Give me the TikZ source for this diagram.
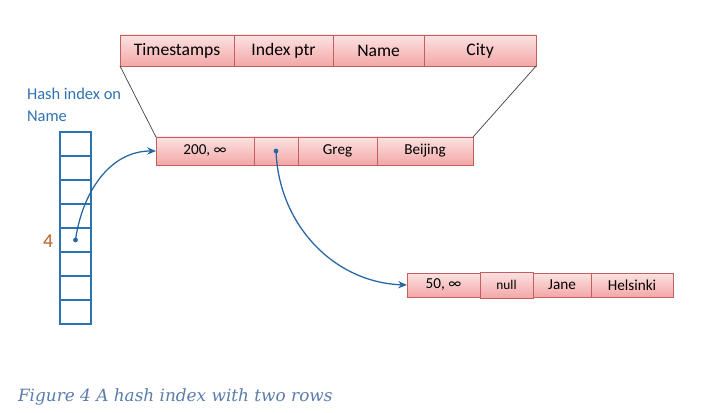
\documentclass[tikz,border=0pt]{standalone}
\usepackage{fontspec}
\setmainfont{Carlito}
\newfontfamily\captionfont{DejaVu Serif}
\usetikzlibrary{arrows.meta, positioning}

\definecolor{celltop}{HTML}{FCE2E2}
\definecolor{cellbot}{HTML}{F3A7A7}
\definecolor{cellborder}{HTML}{C2605E}
\definecolor{hashblue}{HTML}{2E72B0}
\definecolor{linkblue}{HTML}{2566A3}
\definecolor{numorange}{HTML}{B8632A}
\definecolor{captionblue}{HTML}{5A7CAB}

\begin{document}
\begin{tikzpicture}[
    x=0.025cm, y=-0.025cm,
    every node/.style={inner sep=0pt, outer sep=0pt},
    topcell/.style={rectangle, draw=cellborder, top color=celltop, bottom color=cellbot, minimum height=0.775cm, font=\fontsize{12.5}{15}\selectfont},
    rowcell/.style={rectangle, draw=cellborder, top color=celltop, bottom color=cellbot, minimum height=0.7cm, font=\fontsize{10.8}{13}\selectfont},
    lowcell/.style={rowcell, minimum height=0.6cm},
    slot/.style={rectangle, draw=hashblue, line width=1.3pt, minimum width=0.775cm, minimum height=0.6cm},
    dot/.style={circle, fill=linkblue, minimum size=3.4pt},
    link/.style={-{Stealth[length=2.2mm, width=1.8mm]}, linkblue, line width=0.9pt},
    frame/.style={draw=black!75, line width=0.5pt}
]
\useasboundingbox (0,0) rectangle (710,413);

% ============ SCHEMA (TOP) ============
\node[topcell, minimum width=2.85cm, anchor=north west] (hd_ts) at (120,35) {Timestamps};
\node[topcell, minimum width=2.475cm, right=0pt of hd_ts] (hd_ptr) {Index ptr};
\node[topcell, minimum width=2.275cm, right=0pt of hd_ptr] (hd_name) {Name};
\node[topcell, minimum width=2.8cm, right=0pt of hd_name] (hd_city) {City};

% ============ FIRST ROW ============
\node[rowcell, minimum width=2.45cm, anchor=north west] (r1_ts) at (156,137) {200, ∞};
\node[rowcell, minimum width=1.1cm, right=0pt of r1_ts] (r1_ptr) {};
\node[rowcell, minimum width=1.975cm, right=0pt of r1_ptr] (r1_name) {Greg};
\node[rowcell, minimum width=2.4cm, right=0pt of r1_name] (r1_city) {Beijing};

% Zoom lines
\draw[frame] (hd_ts.south west) -- (r1_ts.north west);
\draw[frame] (hd_city.south east) -- (r1_city.north east);

% ============ SECOND ROW ============
\node[lowcell, minimum width=1.825cm, anchor=north west] (r2_ts) at (407,273) {50, ∞};
\node[lowcell, minimum width=1.45cm, anchor=north west] (r2_name) at (533,273) {Jane};
\node[lowcell, minimum width=2.05cm, right=0pt of r2_name] (r2_city) {Helsinki};
\node[lowcell, minimum width=1.325cm, minimum height=0.65cm, anchor=north west, font=\fontsize{9.5}{11}\selectfont] (r2_ptr) at (480,272) {null};

% ============ HASH INDEX ============
\node[anchor=north west, align=left, text=hashblue, font=\fontsize{11.7}{15.6}\selectfont] (hashlabel) at (27,88) {Hash index on\\Name};

\foreach \i in {1,...,8}
    \node[slot, anchor=north west] (hk\i) at (60,{132+24*(\i-1)}) {};

\node[text=numorange, font=\fontsize{14}{16}\selectfont] (slotnum) at (48,241) {4};

% Pointers
\node[dot] (hashdot) at (hk5.center) {};
\node[dot] (ptrdot) at (r1_ptr.center) {};
\draw[link] (hashdot.center) to[out=82, in=180] (r1_ts.west);
\draw[link] (ptrdot.center) to[out=-88, in=178] (r2_ts.west);

% Caption
\node[anchor=base west, text=captionblue, font=\captionfont\itshape\fontsize{12}{14}\selectfont] (caption) at (18,401) {Figure 4 A hash index with two rows};

\end{tikzpicture}
\end{document}
